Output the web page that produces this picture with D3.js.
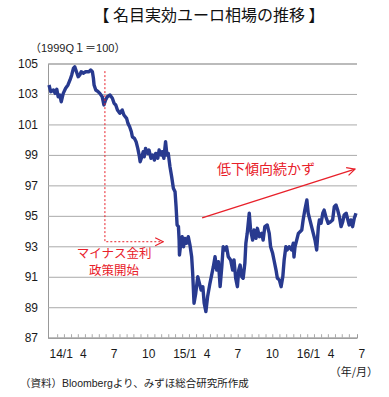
<!DOCTYPE html>
<html>
<head>
<meta charset="utf-8">
<script src="https://cdn.jsdelivr.net/npm/d3@7"></script>
<style>
  body { margin: 0; background: #fff; }
  svg { font-family: "Liberation Sans", Arial, "Noto Sans CJK JP", sans-serif; }
</style>
</head>
<body>
<svg id="chart"></svg>
<script>
// days since 2014-01-01 and nominal effective euro rate (1999Q1 = 100)
const dayNo = [
  3, 8, 16, 21, 26, 30, 35, 39, 45, 52,
  59, 65, 70, 75, 79, 84, 89, 94, 98, 104,
  111, 121, 126, 131, 134, 136, 141, 148, 153, 160,
  165, 170, 175, 183, 190, 195, 200, 205, 212, 219,
  224, 232, 236, 241, 246, 249, 255, 260, 265, 269,
  272, 277, 281, 284, 288, 294, 298, 304, 309, 314,
  318, 324, 328, 334, 337, 342, 347, 351, 355, 360,
  365, 370, 375, 378, 381, 385, 387, 388, 393, 396,
  400, 404, 409, 414, 419, 424, 427, 431, 436, 442,
  447, 452, 457, 461, 466, 471, 478, 488, 493, 498,
  503, 508, 513, 517, 522, 527, 532, 539, 545, 549,
  554, 559, 563, 567, 572, 576, 581, 584, 588, 594,
  598, 604, 608, 614, 618, 624, 631, 635, 640, 647,
  653, 657, 663, 667, 673, 677, 683, 688, 693, 697,
  702, 706, 712, 719, 724, 726, 729, 734, 739, 744,
  749, 753, 758, 764, 768, 773, 778, 783, 788, 793,
  798, 801, 806, 811, 815, 820, 827, 834, 840, 845,
  850, 855, 860, 865, 870, 874, 880, 885, 889, 894,
  899, 904, 909
];
const euroIndex = [
  103.59, 103.15, 103.26, 103.04, 103.31, 102.82, 102.93, 102.49, 103.04, 103.37,
  103.59, 103.92, 104.25, 104.68, 104.79, 104.46, 104.13, 104.25, 104.46, 104.36,
  104.46, 104.46, 104.57, 104.46, 104.03, 103.59, 103.26, 103.15, 103.04, 102.82,
  102.28, 102.6, 102.82, 102.93, 102.72, 102.39, 102.28, 101.95, 101.73, 101.95,
  101.62, 101.4, 101.07, 100.85, 100.52, 100.19, 100.09, 99.87, 99.43, 98.99,
  98.55, 98.88, 99.21, 98.88, 99.43, 99.1, 99.32, 98.78, 98.99, 98.66,
  99.1, 98.78, 99.32, 98.99, 99.21, 98.78, 99.87, 98.99, 99.1, 98.22,
  97.57, 96.81, 96.58, 95.6, 94.4, 94.29, 93.41, 92.43, 93.41, 93.63,
  92.97, 93.52, 93.2, 93.63, 93.08, 92.32, 91.23, 89.26, 89.91, 91.0,
  90.57, 90.13, 90.35, 89.26, 88.71, 89.69, 90.57, 91.66, 92.32, 91.44,
  91.99, 90.35, 91.66, 92.97, 92.76, 92.97, 92.32, 92.1, 91.44, 92.1,
  90.9, 90.35, 91.44, 91.77, 91.0, 90.9, 91.88, 93.2, 93.85, 95.17,
  94.07, 93.41, 94.07, 93.52, 94.18, 93.63, 93.85, 93.41, 94.29, 94.4,
  93.85, 92.97, 92.54, 92.1, 91.44, 90.9, 90.79, 90.35, 91.0, 92.1,
  92.97, 92.76, 92.97, 92.76, 93.2, 92.3, 92.97, 93.41, 93.85, 93.96,
  94.07, 94.73, 95.38, 96.04, 95.17, 94.73, 94.29, 93.85, 93.41, 92.76,
  94.29, 94.73, 94.51, 95.17, 95.38, 94.94, 94.51, 94.61, 94.73, 95.6,
  95.71, 95.38, 94.94, 94.29, 94.61, 95.05, 95.17, 94.73, 94.4, 94.73,
  94.29, 94.84, 95.17
];
const yTicks = [87, 89, 91, 93, 95, 97, 99, 101, 103, 105];
const monthTicks = ["2014-01", "2014-04", "2014-07", "2014-10", "2015-01", "2015-04",
  "2015-07", "2015-10", "2016-01", "2016-04", "2016-07"];
const monthLabels = ["14/1", "4", "7", "10", "15/1", "4", "7", "10", "16/1", "4", "7"];

const title = "名目実効ユーロ相場の推移";
const unitLabel = "（1999Q１＝100）";
const xUnit = "（年/月）";
const source = "（資料）Bloombergより、みずほ総合研究所作成";

const width = 389, height = 397;
const margin = { top: 63.5, right: 32, bottom: 59.3, left: 48 };
const red = "#e8202a";
const jp = "'Noto Sans CJK JP', sans-serif";

const start = new Date(2014, 0, 1);
const data = dayNo.map((d, i) => ({ date: d3.timeDay.offset(start, d), value: euroIndex[i] }));

const svg = d3.select("#chart").attr("width", width).attr("height", height);

const x = d3.scaleTime()
  .domain([start, new Date(2016, 6, 1)])
  .range([margin.left, width - margin.right]);
const y = d3.scaleLinear()
  .domain([87, 105])
  .range([height - margin.bottom, margin.top]);

// gridlines + y labels
svg.append("g")
  .attr("transform", "translate(" + margin.left + ",0)")
  .call(d3.axisLeft(y).tickValues(yTicks).tickSize(-(width - margin.left - margin.right)).tickPadding(10))
  .call((g) => g.select(".domain").attr("stroke", "#999"))
  .call((g) => g.selectAll(".tick line").attr("stroke", "#aaa"))
  .call((g) => g.selectAll(".tick text").attr("font-size", "12px").attr("fill", "#1a1a1a"));

// minor ticks along the bottom (every 3 weeks or so)
let minor = d3.range(27, 900, 20.5).map((d) => d3.timeDay.offset(start, d));
svg.append("g")
  .attr("transform", "translate(0," + y(87) + ")")
  .call(d3.axisTop(x).tickValues(minor).tickSize(3.5).tickFormat(""))
  .call((g) => g.select(".domain").attr("stroke", "#999"))
  .call((g) => g.selectAll(".tick line").attr("stroke", "#aaa"));

// month labels
svg.append("g")
  .attr("transform", "translate(0," + y(87) + ")")
  .call(d3.axisBottom(x)
    .tickValues(monthTicks.map((m) => d3.timeParse("%Y-%m")(m)))
    .tickSize(0).tickPadding(12)
    .tickFormat((d, i) => monthLabels[i]))
  .call((g) => g.select(".domain").remove())
  .call((g) => g.selectAll(".tick text")
    .attr("text-anchor", "start").attr("dx", 1)
    .attr("font-size", "12px").attr("fill", "#1a1a1a"));

// line
svg.append("path")
  .datum(data)
  .attr("fill", "none")
  .attr("stroke", "#283a8f")
  .attr("stroke-width", 3.4)
  .attr("stroke-linejoin", "round")
  .attr("d", d3.line().x((d) => x(d.date)).y((d) => y(d.value)));

// arrow markers
let defs = svg.append("defs");
defs.append("marker")
  .attr("id", "chev")
  .attr("viewBox", "0 0 10 10")
  .attr("refX", 9).attr("refY", 5)
  .attr("markerWidth", 10).attr("markerHeight", 10)
  .attr("markerUnits", "userSpaceOnUse")
  .attr("orient", "auto")
  .append("path")
  .attr("d", "M1,1 L9,5 L1,9")
  .attr("fill", "none")
  .attr("stroke", red)
  .attr("stroke-width", 1.2);

// negative rate policy marker
let policyDay = d3.timeDay.offset(start, 168);
svg.append("path")
  .attr("d", d3.line()([
    [x(policyDay), y(104.5)],
    [x(policyDay), y(93.3)],
    [x(d3.timeDay.offset(start, 340)), y(93.3)]
  ]))
  .attr("fill", "none")
  .attr("stroke", red)
  .attr("stroke-width", 1)
  .attr("stroke-dasharray", "2,2")
  .attr("marker-end", "url(#chev)");

svg.append("text")
  .attr("x", x(d3.timeDay.offset(start, 195)))
  .attr("y", y(92.5))
  .attr("dy", "0.36em")
  .attr("text-anchor", "middle")
  .attr("font-family", jp)
  .attr("font-size", "12.5px")
  .attr("fill", red)
  .text("マイナス金利");
svg.append("text")
  .attr("x", x(d3.timeDay.offset(start, 195)))
  .attr("y", y(91.38))
  .attr("dy", "0.36em")
  .attr("text-anchor", "middle")
  .attr("font-family", jp)
  .attr("font-size", "12.5px")
  .attr("fill", red)
  .text("政策開始");

// trend arrow
svg.append("line")
  .attr("x1", x(d3.timeDay.offset(start, 455))).attr("y1", y(94.86))
  .attr("x2", x(d3.timeDay.offset(start, 906))).attr("y2", y(98.07))
  .attr("stroke", red)
  .attr("stroke-width", 1.3)
  .attr("marker-end", "url(#chev)");

svg.append("text")
  .attr("x", x(d3.timeDay.offset(start, 499)))
  .attr("y", y(98.07))
  .attr("dy", "0.36em")
  .attr("font-family", jp)
  .attr("font-size", "14px")
  .attr("fill", red)
  .text("低下傾向続かず");

// titles and notes
svg.append("text")
  .attr("x", 209).attr("y", 21)
  .attr("text-anchor", "middle")
  .attr("font-family", jp)
  .attr("font-size", "16px")
  .attr("fill", "#111")
  .text("【 " + title + " 】");

svg.append("text")
  .attr("x", 30).attr("y", 52)
  .attr("font-size", "11px")
  .attr("fill", "#222")
  .text(unitLabel);

svg.append("text")
  .attr("x", 378).attr("y", 376)
  .attr("text-anchor", "end")
  .attr("font-family", jp)
  .attr("font-size", "11px")
  .attr("fill", "#222")
  .text(xUnit);

svg.append("text")
  .attr("x", 20).attr("y", 387)
  .attr("font-size", "10.5px")
  .attr("fill", "#222")
  .text(source);
</script>
</body>
</html>
